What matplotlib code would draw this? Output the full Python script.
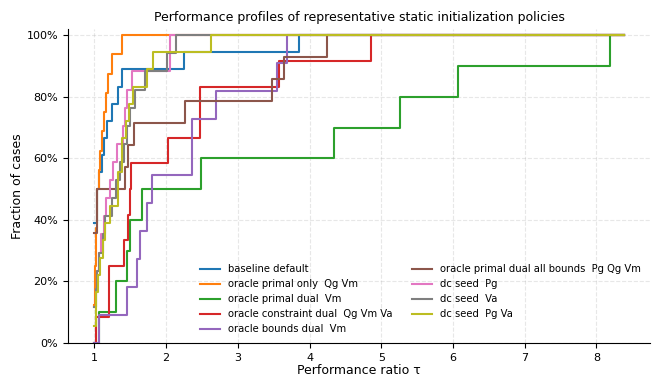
import numpy as np
import matplotlib
matplotlib.use('Agg')
import matplotlib.pyplot as plt
from matplotlib.ticker import PercentFormatter

#%% Dados (pontos de quebra dos perfis, tau -> fracao)
tau_max = 8.38

labels = ['baseline default',
          'oracle primal only  Qg Vm',
          'oracle primal dual  Vm',
          'oracle constraint dual  Qg Vm Va',
          'oracle bounds dual  Vm',
          'oracle primal dual all bounds  Pg Qg Vm',
          'dc seed  Pg',
          'dc seed  Va',
          'dc seed  Pg Va']

tau_base = [1.00, 1.03, 1.07, 1.10, 1.13, 1.17, 1.25, 1.33, 1.38, 2.25, 3.85]
frac_base = [7/18, 9/18, 10/18, 11/18, 12/18, 13/18, 14/18, 15/18, 16/18, 17/18, 1.0]

tau_primal = [1.00, 1.01, 1.02, 1.04, 1.06, 1.08, 1.10, 1.13, 1.16, 1.19, 1.25, 1.39]
frac_primal = [2/16, 4/16, 6/16, 8/16, 9/16, 10/16, 11/16, 12/16, 13/16, 14/16, 15/16, 1.0]

tau_pd = [1.00, 1.06, 1.30, 1.46, 1.50, 1.66, 2.49, 4.34, 5.26, 6.07, 8.19]
frac_pd = [0.0, 0.1, 0.2, 0.3, 0.4, 0.5, 0.6, 0.7, 0.8, 0.9, 1.0]

tau_cons = [1.00, 1.02, 1.20, 1.41, 1.47, 1.49, 1.51, 2.02, 2.47, 3.57, 4.86]
frac_cons = [0.0, 1/12, 3/12, 4/12, 5/12, 6/12, 7/12, 8/12, 10/12, 11/12, 1.0]

tau_bnd = [1.00, 1.06, 1.46, 1.60, 1.63, 1.73, 1.80, 2.36, 2.69, 3.55, 3.68]
frac_bnd = [0.0, 1/11, 2/11, 3/11, 4/11, 5/11, 6/11, 8/11, 9/11, 10/11, 1.0]

tau_allb = [1.00, 1.03, 1.43, 1.47, 1.55, 2.26, 3.47, 3.65, 4.25]
frac_allb = [5/14, 7/14, 8/14, 9/14, 10/14, 11/14, 12/14, 13/14, 1.0]

tau_dcpg = [1.00, 1.02, 1.04, 1.06, 1.09, 1.13, 1.16, 1.22, 1.26, 1.31, 1.40, 1.43, 1.45, 1.53, 2.06]
frac_dcpg = [2/17, 3/17, 4/17, 5/17, 6/17, 7/17, 8/17, 9/17, 10/17, 11/17, 12/17, 13/17, 14/17, 15/17, 1.0]

tau_dcva = [1.00, 1.02, 1.04, 1.07, 1.12, 1.15, 1.25, 1.30, 1.36, 1.41, 1.45, 1.50, 1.56, 1.71, 2.01, 2.14]
frac_dcva = [2/17, 3/17, 4/17, 5/17, 6/17, 7/17, 8/17, 9/17, 10/17, 11/17, 12/17, 13/17, 14/17, 15/17, 16/17, 1.0]

tau_dcpgva = [1.00, 1.02, 1.05, 1.08, 1.12, 1.15, 1.22, 1.33, 1.38, 1.44, 1.48, 1.54, 1.73, 1.81, 2.62]
frac_dcpgva = [1/18, 3/18, 4/18, 5/18, 6/18, 7/18, 8/18, 10/18, 12/18, 13/18, 14/18, 15/18, 16/18, 17/18, 1.0]

taus = [tau_base, tau_primal, tau_pd, tau_cons, tau_bnd, tau_allb, tau_dcpg, tau_dcva, tau_dcpgva]
fracs = [frac_base, frac_primal, frac_pd, frac_cons, frac_bnd, frac_allb, frac_dcpg, frac_dcva, frac_dcpgva]

#%% Figura
fig, ax = plt.subplots(figsize=(6.54, 3.77), dpi=100)
fig.subplots_adjust(left=0.104, right=0.994, bottom=0.09, top=0.923)

for t, f, lab in zip(taus, fracs, labels):
    tt = list(t) + [tau_max]
    ff = list(f) + [f[-1]]
    ax.step(tt, ff, where='post', linewidth=1.5, label=lab)

ax.set_ylim(0, 1.02)
ax.yaxis.set_major_formatter(PercentFormatter(1.0, decimals=0))
ax.grid(True, linestyle='--', alpha=0.3)
ax.spines['top'].set_visible(False)
ax.spines['right'].set_visible(False)
ax.tick_params(axis='both', which='major', labelsize=8)

ax.set_title('Performance profiles of representative static initialization policies', fontsize=9)
ax.set_xlabel('Performance ratio τ', fontsize=9, labelpad=1)
ax.set_ylabel('Fraction of cases', fontsize=9, labelpad=2)
ax.legend(loc='lower right', ncol=2, frameon=False, fontsize=7.2)

fig.savefig('out.png', dpi=100)
